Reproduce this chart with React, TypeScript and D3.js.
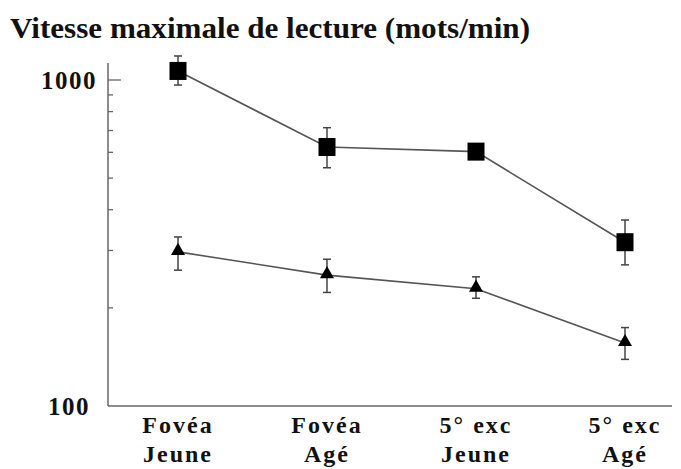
import { useEffect, useRef } from 'react'
import * as d3 from 'd3'

const title = 'Vitesse maximale de lecture (mots/min)'
const categories = ['FJ', 'FA', 'EJ', 'EA']
const labelTop = ['Fovéa', 'Fovéa', '5° exc', '5° exc']
const labelBottom = ['Jeune', 'Agé', 'Jeune', 'Agé']

const squareMean = [1066, 623, 603, 318]
const squareHigh = [1185, 714, 625, 372]
const squareLow = [965, 538, 575, 271]

const triangleMean = [297, 252, 229, 156]
const triangleHigh = [330, 282, 249, 174]
const triangleLow = [261, 223, 214, 139]

const majorTicks = [100, 1000]
const minorTicks = [200, 300, 400, 500, 600, 700, 800, 900]

type Pt = { cat: string; mean: number; high: number; low: number }

const squares: Pt[] = categories.map((c, i) => ({ cat: c, mean: squareMean[i], high: squareHigh[i], low: squareLow[i] }))
const triangles: Pt[] = categories.map((c, i) => ({ cat: c, mean: triangleMean[i], high: triangleHigh[i], low: triangleLow[i] }))

export default function App() {
  const svgRef = useRef<SVGSVGElement>(null)

  useEffect(() => {
    const svgEl = svgRef.current
    if (!svgEl) return
    const width = 681
    const height = 469

    const x = d3.scalePoint<string>().domain(categories).range([178, 625])
    const y = d3.scaleLog().domain([100, 1000]).range([406, 80])
    const axisX = 108
    const axisRight = 672
    const axisTop = y(1128)

    const svg = d3.select(svgEl)
    svg.attr('width', width).attr('height', height).selectAll('*').remove()
    svg.append('rect').attr('width', width).attr('height', height).attr('fill', '#fff')

    const serif = '"Liberation Serif", "Times New Roman", serif'

    // Title
    svg.append('text')
      .attr('x', 10)
      .attr('y', 38)
      .attr('textLength', 520)
      .attr('lengthAdjust', 'spacingAndGlyphs')
      .style('font-family', serif)
      .style('font-weight', 'bold')
      .style('font-size', '30px')
      .style('fill', '#111')
      .text(title)

    // Axes
    const axisColor = '#666'
    svg.append('line')
      .attr('x1', axisX).attr('x2', axisX)
      .attr('y1', axisTop).attr('y2', y(100))
      .style('stroke', axisColor).style('stroke-width', '1.5')
    svg.append('line')
      .attr('x1', axisX).attr('x2', axisRight)
      .attr('y1', y(100)).attr('y2', y(100))
      .style('stroke', axisColor).style('stroke-width', '1.5')

    svg.selectAll('line.minor')
      .data(minorTicks)
      .join('line')
      .attr('class', 'minor')
      .attr('x1', axisX).attr('x2', axisX + 5)
      .attr('y1', d => y(d)).attr('y2', d => y(d))
      .style('stroke', axisColor).style('stroke-width', '1.3')

    svg.append('line')
      .attr('x1', axisX).attr('x2', axisX + 13)
      .attr('y1', y(1000)).attr('y2', y(1000))
      .style('stroke', axisColor).style('stroke-width', '1.3')

    svg.selectAll('text.ylab')
      .data(majorTicks)
      .join('text')
      .attr('class', 'ylab')
      .attr('x', d => (d === 1000 ? 97 : 90))
      .attr('y', d => y(d) + 9)
      .attr('text-anchor', 'end')
      .style('font-family', serif)
      .style('font-weight', 'bold')
      .style('font-size', '25px')
      .style('letter-spacing', '1.5px')
      .style('fill', '#111')
      .text(d => String(d))

    // Category labels
    const labels = svg.append('g')
    categories.forEach((c, i) => {
      labels.append('text')
        .attr('x', x(c)!)
        .attr('y', 433)
        .attr('text-anchor', 'middle')
        .style('font-family', serif)
        .style('font-weight', 'bold')
        .style('font-size', '24px')
        .style('letter-spacing', '2px')
        .style('fill', '#111')
        .text(labelTop[i])
      labels.append('text')
        .attr('x', x(c)!)
        .attr('y', 462)
        .attr('text-anchor', 'middle')
        .style('font-family', serif)
        .style('font-weight', 'bold')
        .style('font-size', '24px')
        .style('letter-spacing', '2px')
        .style('fill', '#111')
        .text(labelBottom[i])
    })

    const line = d3.line<Pt>()
      .x(d => x(d.cat)!)
      .y(d => y(d.mean))

    const drawSeries = (data: Pt[], marker: 'square' | 'triangle') => {
      const g = svg.append('g')
      g.append('path')
        .datum(data)
        .attr('fill', 'none')
        .attr('d', line)
        .style('stroke', '#555')
        .style('stroke-width', '1.6')

      // Error bars
      const eb = g.selectAll('g.eb').data(data).join('g').attr('class', 'eb')
      eb.append('line')
        .attr('x1', d => x(d.cat)!).attr('x2', d => x(d.cat)!)
        .attr('y1', d => y(d.high)).attr('y2', d => y(d.low))
        .style('stroke', '#444').style('stroke-width', '1.5')
      eb.append('line')
        .attr('x1', d => x(d.cat)! - 4).attr('x2', d => x(d.cat)! + 4)
        .attr('y1', d => y(d.high)).attr('y2', d => y(d.high))
        .style('stroke', '#444').style('stroke-width', '1.5')
      eb.append('line')
        .attr('x1', d => x(d.cat)! - 4).attr('x2', d => x(d.cat)! + 4)
        .attr('y1', d => y(d.low)).attr('y2', d => y(d.low))
        .style('stroke', '#444').style('stroke-width', '1.5')

      if (marker === 'square') {
        g.selectAll('rect.m').data(data).join('rect')
          .attr('class', 'm')
          .attr('x', d => x(d.cat)! - 8.5)
          .attr('y', d => y(d.mean) - 9)
          .attr('width', 17)
          .attr('height', 18)
          .style('fill', '#000')
      } else {
        const tri = d3.symbol().type(d3.symbolTriangle).size(85)
        g.selectAll('path.m').data(data).join('path')
          .attr('class', 'm')
          .attr('transform', d => `translate(${x(d.cat)},${y(d.mean) - 1})`)
          .attr('d', tri)
          .style('fill', '#000')
      }
    }

    drawSeries(squares, 'square')
    drawSeries(triangles, 'triangle')
  }, [])

  return (
    <svg ref={svgRef} style={{ position: 'absolute', left: 0, top: 0, display: 'block' }} />
  )
}
